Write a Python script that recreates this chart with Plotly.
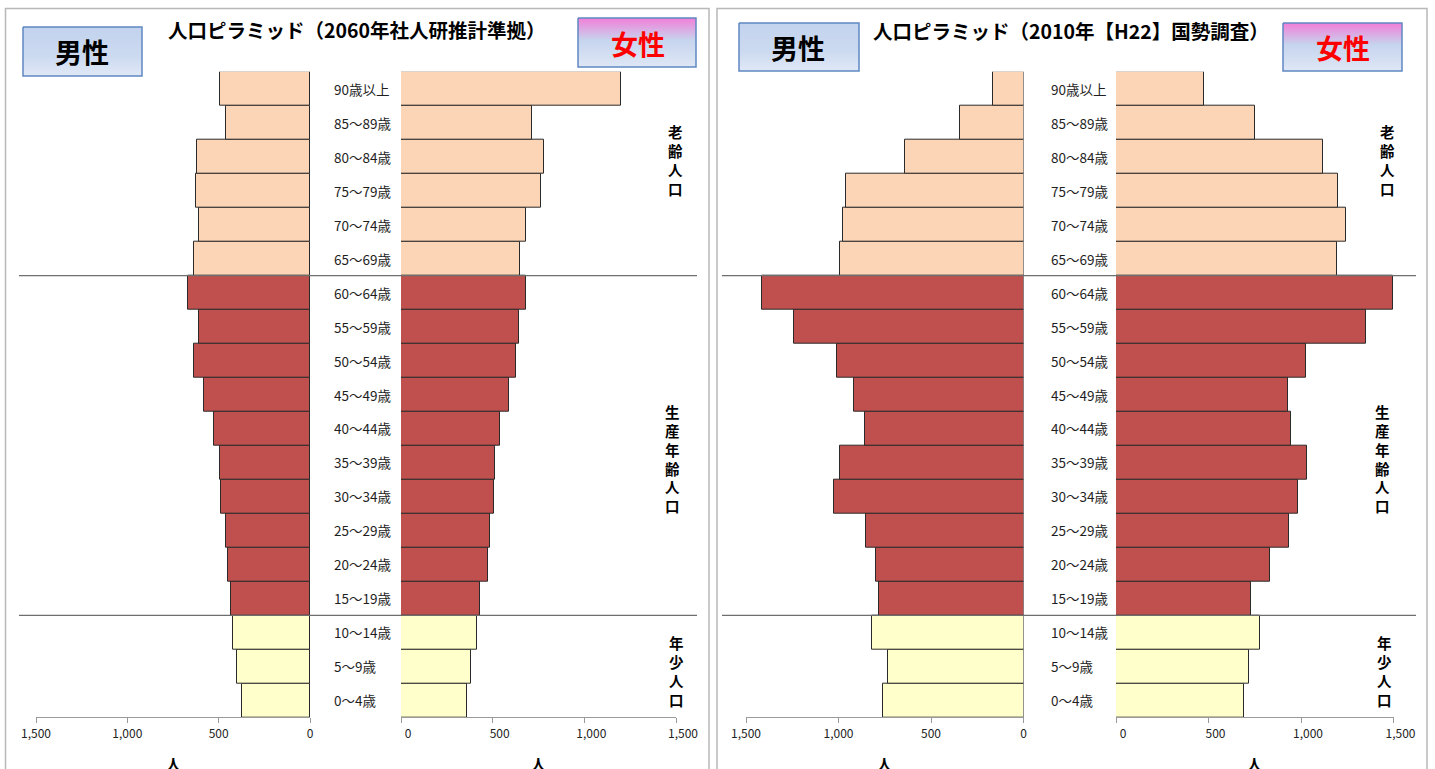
import plotly.graph_objects as go

W, H = 1435, 769
FONT = "Noto Sans CJK JP, Noto Sans, sans-serif"

# Age groups, bottom row first
age_groups = ["0～4歳", "5～9歳", "10～14歳", "15～19歳", "20～24歳", "25～29歳",
              "30～34歳", "35～39歳", "40～44歳", "45～49歳", "50～54歳", "55～59歳",
              "60～64歳", "65～69歳", "70～74歳", "75～79歳", "80～84歳", "85～89歳",
              "90歳以上"]

# 2060 projection (社人研推計準拠), persons
male_2060 = [374, 400, 420, 430, 450, 460, 485, 495, 528, 583, 633, 606,
             670, 635, 605, 625, 620, 462, 490]
female_2060 = [359, 382, 417, 432, 477, 487, 508, 510, 538, 590, 626, 646,
               683, 647, 682, 762, 778, 715, 1198]

# 2010 census (H22 国勢調査), persons
male_2010 = [759, 734, 821, 779, 796, 850, 1026, 991, 855, 914, 1008, 1241,
             1416, 991, 974, 959, 643, 344, 163]
female_2010 = [690, 719, 781, 727, 835, 937, 986, 1031, 947, 932, 1026, 1352,
               1497, 1196, 1241, 1201, 1120, 754, 475]

tick_values = [0, 500, 1000, 1500]

panel_titles = ["人口ピラミッド（2060年社人研推計準拠）", "人口ピラミッド（2010年【H22】国勢調査）"]
group_names = ["老齢人口", "生産年齢人口", "年少人口"]

COL_YOUNG = "#FFFFCC"
COL_WORK = "#C0504D"
COL_OLD = "#FBD5B5"


def band_color(i):
    if i <= 2:
        return COL_YOUNG
    if i <= 12:
        return COL_WORK
    return COL_OLD


bar_colors = [band_color(i) for i in range(len(age_groups))]

fig = go.Figure()

series = [("x", male_2060), ("x2", female_2060), ("x3", male_2010), ("x4", female_2010)]
for axis_id, values in series:
    fig.add_trace(go.Bar(
        y=age_groups, x=values, orientation="h",
        xaxis=axis_id, yaxis="y",
        marker=dict(color=bar_colors, line=dict(color="#2a2a2a", width=1)),
        showlegend=False, hoverinfo="x+y",
    ))


# Decorative header boxes with vertical gradients (pixel-space overlay axes)
def header_box(x0, x1, y0, y1, stops):
    return go.Scatter(
        x=[x0, x1, x1, x0, x0], y=[y0, y0, y1, y1, y0],
        mode="lines", fill="toself",
        line=dict(color="#5F88C2", width=1.5),
        fillgradient=dict(type="vertical", colorscale=stops, start=y0, stop=y1),
        xaxis="x5", yaxis="y5", hoverinfo="skip", showlegend=False,
    )


blue_stops = [[0, "#C3D3EE"], [0.6, "#CCDAF0"], [1, "#E0E8F6"]]
pink_stops = [[0, "#F27ED8"], [0.45, "#C6D4EE"], [1, "#DEE7F5"]]

fig.add_trace(header_box(23, 142, 27, 76, blue_stops))
fig.add_trace(header_box(578, 696, 18, 67, pink_stops))
fig.add_trace(header_box(739, 859, 23, 71, blue_stops))
fig.add_trace(header_box(1283, 1402, 23, 71, pink_stops))


def value_axis(x0, x1, reverse, shift=0):
    return dict(
        domain=[x0 / W, x1 / W],
        range=[1500, 0] if reverse else [0, 1500],
        anchor="y", automargin=False,
        tickvals=tick_values, tickformat=",d",
        ticks="outside", ticklen=5, tickcolor="#9A9A9A",
        ticklabelshift=shift,
        showline=True, linecolor="#9A9A9A", linewidth=1,
        showgrid=False, zeroline=False, fixedrange=True,
        tickfont=dict(family=FONT, size=12, color="#222222"),
    )


y_top, y_bottom = 71.7, 717.3

layout = dict(
    width=W, height=H,
    margin=dict(l=0, r=0, t=0, b=0, pad=0, autoexpand=False),
    paper_bgcolor="white", plot_bgcolor="rgba(0,0,0,0)",
    bargap=0, showlegend=False,
    xaxis=value_axis(36, 310, True),
    xaxis2=value_axis(401, 676, False, 7),
    xaxis3=value_axis(746, 1023.5, True),
    xaxis4=value_axis(1116, 1393.5, False, 7),
    yaxis=dict(
        domain=[1 - y_bottom / H, 1 - y_top / H],
        type="category", categoryorder="array", categoryarray=age_groups,
        range=[-0.5, len(age_groups) - 0.5],
        anchor="x", visible=False, fixedrange=True, automargin=False,
    ),
    xaxis5=dict(domain=[0, 1], range=[0, W], anchor="y5", visible=False,
                fixedrange=True, automargin=False),
    yaxis5=dict(domain=[0, 1], range=[H, 0], anchor="x5", visible=False,
                fixedrange=True, automargin=False),
)
fig.update_layout(**layout)

shapes = []
# Panel frames
for x0, x1 in [(5.5, 709), (717, 1427)]:
    shapes.append(dict(type="rect", xref="x5", yref="y5", x0=x0, x1=x1, y0=8.5, y1=H + 20,
                       line=dict(color="#B8B8B8", width=1.5), fillcolor="rgba(0,0,0,0)", layer="below"))
# Separators between population bands (category boundaries)
for x0, x1 in [(19, 697), (722, 1416)]:
    for boundary in (2.5, 12.5):
        shapes.append(dict(type="line", xref="x5", yref="y", x0=x0, x1=x1, y0=boundary, y1=boundary,
                           line=dict(color="#6E6E6E", width=1.2)))
fig.update_layout(shapes=shapes)

ann = []
# Age labels between the two halves
for label_x in (332, 1049):
    for age in age_groups:
        ann.append(dict(xref="x5", yref="y", x=label_x, y=age, text=age, showarrow=False,
                        xanchor="left", yanchor="middle",
                        font=dict(family=FONT, size=13.5, color="#1E1E1E")))

# Panel titles
for tx, ty, title in [(357, 29, panel_titles[0]), (1071, 30, panel_titles[1])]:
    ann.append(dict(xref="x5", yref="y5", x=tx, y=ty, text=f"<b>{title}</b>", showarrow=False,
                    xanchor="center", yanchor="middle",
                    font=dict(family=FONT, size=19.5, color="#000000")))

# Header box captions
for tx, ty, txt, col in [(82, 51, "男性", "#000000"), (638, 43, "女性", "#FF0000"),
                         (798, 47, "男性", "#000000"), (1343, 47, "女性", "#FF0000")]:
    ann.append(dict(xref="x5", yref="y5", x=tx, y=ty, text=f"<b>{txt}</b>", showarrow=False,
                    xanchor="center", yanchor="middle",
                    font=dict(family=FONT, size=27, color=col)))

# Vertical band names on the right of each panel
for px, offsets in [((675, 672, 676), (160, 458, 671)), ((1387, 1382, 1384), (160, 458, 671))]:
    for name, gx, gy in zip(group_names, px, offsets):
        ann.append(dict(xref="x5", yref="y5", x=gx, y=gy,
                        text="<b>" + "<br>".join(name) + "</b>", showarrow=False,
                        xanchor="center", yanchor="middle",
                        font=dict(family=FONT, size=14.5, color="#000000")))

# Unit label under each value axis
for axis_id in ("x", "x2", "x3", "x4"):
    ann.append(dict(xref=f"{axis_id} domain", yref="y5", x=0.5, y=763, text="<b>人</b>",
                    showarrow=False, xanchor="center", yanchor="middle",
                    font=dict(family=FONT, size=15, color="#000000")))

fig.update_layout(annotations=ann)

fig.write_html("out.html", config={"displayModeBar": False})
